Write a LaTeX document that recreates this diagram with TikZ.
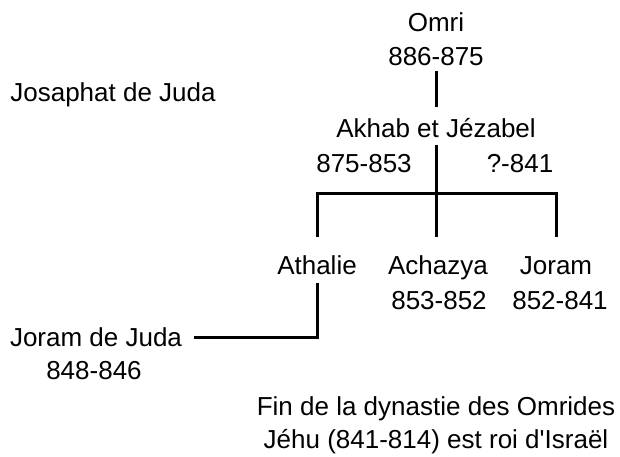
\documentclass[tikz,border=0pt]{standalone}
\usepackage{fontspec}
\setmainfont{Liberation Sans}
\usetikzlibrary{positioning}
\tikzset{
    %Define style for names and dates
    label/.style={
           inner sep=4pt,
           text height=19pt,
           text depth=0pt,
           font=\fontsize{26}{30}\selectfont},
    % Define line style
    link/.style={
           line width=3pt,
           line cap=butt}
}
\begin{document}
\begin{tikzpicture}[x=1pt, y=-1pt]
 \useasboundingbox (0,0) rectangle (620,456);
 %nodes
    \node[label] (omri) at (436,22) {Omri};
    \node[label] (omridates) at (436,56) {886-875};
    \node[label] (josaphat) at (113,92) {Josaphat de Juda};
    \node[label] (akhab) at (436,128) {Akhab et Jézabel};
    \node[label] (akhabdates) at (364,163) {875-853};
    \node[label] (jezdates) at (520,163) {?-841};
    \node[label] (athalie) at (317,265) {Athalie};
    \node[label] (achazya) at (438,265) {Achazya};
    \node[label] (joram) at (556,265) {Joram};
    \node[label] (achazyadates) at (439,300) {853-852};
    \node[label] (joramdates) at (560,300) {852-841};
    \node[label] (jorjuda) at (96,337) {Joram de Juda};
    \node[label] (jorjudadates) at (94,370) {848-846};
    \node[label] (fin) at (436,406) {Fin de la dynastie des Omrides};
    \node[label] (jehu) at (436,439) {Jéhu (841-814) est roi d\textquotesingle Israël};
    \coordinate (split) at (436,193);
 %edges
    \draw[link, shorten <=1.5pt] (omridates.south) -- ([yshift=7.5pt]akhab.north);
    \draw[link, shorten <=3.5pt] (akhab.south) -- (split);
    \draw[link, shorten >=14.5pt] (split) -| (athalie.north);
    \draw[link, shorten >=14.5pt] (split) -- (split |- achazya.north);
    \draw[link, shorten >=14.5pt] (split) -| (joram.north);
    \draw[link, shorten <=4.5pt, shorten >=8pt] (athalie.south) |- (jorjuda.east);
\end{tikzpicture}
\end{document}
